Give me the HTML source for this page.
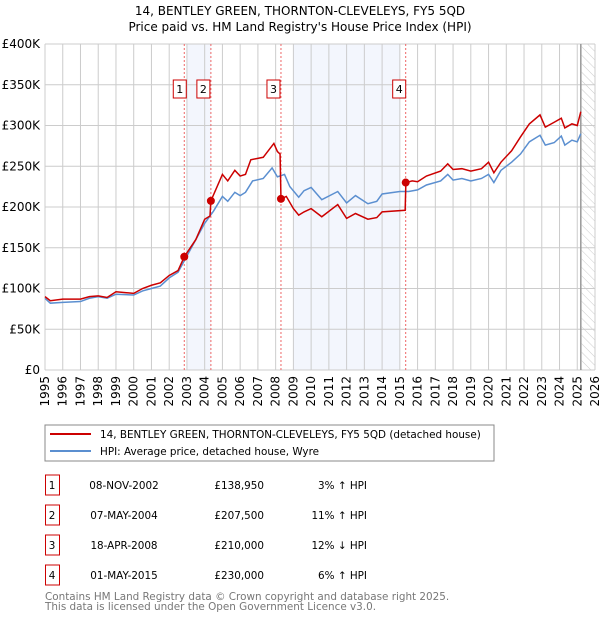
<!DOCTYPE html>
<html><head><meta charset="utf-8"><style>
body{margin:0;background:#fff;}
svg{font-family:"DejaVu Sans","Liberation Sans",sans-serif;}
</style></head><body>
<svg id="c" width="600" height="620">
<defs><pattern id="h" width="6" height="6" patternUnits="userSpaceOnUse" patternTransform="rotate(-45)"><line x1="0" y1="0" x2="0" y2="6" stroke="#ccc" stroke-width="1"/></pattern></defs>
<text x="300" y="15" text-anchor="middle" font-size="12">14, BENTLEY GREEN, THORNTON-CLEVELEYS, FY5 5QD</text>
<text x="300" y="31" text-anchor="middle" font-size="12">Price paid vs. HM Land Registry's House Price Index (HPI)</text>
<g id="grid"></g><g id="marks"></g><g id="axes"></g>
<rect x="45" y="425" width="449" height="36" fill="none" stroke="#888"/>
<line x1="50" y1="434" x2="91" y2="434" stroke="#cc0000" stroke-width="2"/>
<text x="100" y="438" font-size="10.4">14, BENTLEY GREEN, THORNTON-CLEVELEYS, FY5 5QD (detached house)</text>
<line x1="50" y1="451" x2="91" y2="451" stroke="#5b8fd0" stroke-width="2"/>
<text x="100" y="455" font-size="10.4">HPI: Average price, detached house, Wyre</text>
<g id="table" font-size="10.4"></g>
<text x="45" y="600" font-size="10.4" fill="#777">Contains HM Land Registry data © Crown copyright and database right 2025.</text>
<text x="45" y="610" font-size="10.4" fill="#777">This data is licensed under the Open Government Licence v3.0.</text>
</svg>
<script>
const hpiT=[1995,1995.3,1996,1997,1997.5,1998,1998.5,1999,2000,2000.5,2001,2001.5,2002,2002.5,2003,2003.5,2004,2004.5,2005,2005.3,2005.7,2006,2006.3,2006.7,2007.3,2007.8,2008.1,2008.5,2008.8,2009.3,2009.6,2010,2010.6,2011.5,2012,2012.5,2013.2,2013.7,2014,2015,2015.5,2016,2016.5,2017.3,2017.7,2018,2018.5,2019,2019.6,2020,2020.3,2020.7,2021.3,2021.8,2022.3,2022.9,2023.2,2023.7,2024.1,2024.3,2024.7,2025,2025.2];
const hpiV=[88,82,83,84,88,90,88,93,92,97,100,103,113,120,140,160,180,195,213,207,218,214,218,232,235,248,237,240,225,212,220,224,209,219,205,214,204,207,216,219,219,221,227,232,240,233,235,232,235,240,230,245,255,265,280,288,276,279,287,276,282,280,290];
const redT=[1995,1995.3,1996,1997,1997.5,1998,1998.5,1999,2000,2000.5,2001,2001.5,2002,2002.5,2002.85,2003.5,2004,2004.3,2004.35,2005,2005.3,2005.7,2006,2006.3,2006.6,2007.3,2007.9,2008.1,2008.25,2008.3,2008.6,2009,2009.3,2009.6,2010,2010.6,2011.5,2012,2012.5,2013.2,2013.7,2014,2015.3,2015.34,2015.7,2016,2016.5,2017.3,2017.7,2018,2018.5,2019,2019.6,2020,2020.3,2020.7,2021.3,2021.8,2022.3,2022.9,2023.2,2023.7,2024.1,2024.3,2024.7,2025,2025.2];
const redV=[90,85,87,87,90,91,89,96,94,100,104,107,116,122,138.95,160,185,189,207.5,240,232,245,238,240,258,261,278,268,265,210,213,198,190,194,198,188,203,186,192,185,187,194,196,230,232,231,238,244,253,246,247,244,247,255,242,255,269,286,302,313,298,304,309,297,302,300,317];
const saleT=[2002.85,2004.35,2008.3,2015.33];
const saleV=[138.95,207.5,210,230];
const saleLabel=["1","2","3","4"];
const dates=["08-NOV-2002","07-MAY-2004","18-APR-2008","01-MAY-2015"];
const prices=["£138,950","£207,500","£210,000","£230,000"];
const diffs=["3% ↑ HPI","11% ↑ HPI","12% ↓ HPI","6% ↑ HPI"];
const yTicks=[0,50,100,150,200,250,300,350,400];
const yLabels=["£0","£50K","£100K","£150K","£200K","£250K","£300K","£350K","£400K"];
const years=[];for(let y=1995;y<=2026;y++)years.push(y);
const X=t=>45+(t-1995)*550/31, Y=v=>370-v*326/400;
const NS="http://www.w3.org/2000/svg";
function mk(p,tag,a){const e=document.createElementNS(NS,tag);for(const k in a)e.setAttribute(k,a[k]);p.appendChild(e);return e;}
const g=document.getElementById('grid'),m=document.getElementById('marks'),ax=document.getElementById('axes'),tb=document.getElementById('table');
[[2003,saleT[1]],[2009,2015]].forEach((s,i)=>{const r=mk(g,'rect',{x:X(s[0]),y:Y(400),width:X(s[1])-X(s[0]),height:Y(0)-Y(400),fill:'#f3f6fd'});

});
const hr=mk(g,'rect',{x:X(2025.25),y:Y(400),width:X(2026)-X(2025.25),height:Y(0)-Y(400),fill:'url(#h)'});


years.forEach(y=>{const l=mk(g,'line',{x1:X(y),x2:X(y),y1:Y(400),y2:Y(0),stroke:'#ccc'});


const t=mk(ax,'text',{x:0,y:0,'font-size':12,'text-anchor':'end',transform:`translate(${X(y)+4},${376}) rotate(-90)`});t.textContent=y;

});
yTicks.forEach((v,i)=>{const l=mk(g,'line',{x1:45,x2:595,y1:Y(v),y2:Y(v),stroke:'#ccc'});


const t=mk(ax,'text',{x:40,y:Y(v)+4,'font-size':12,'text-anchor':'end'});t.textContent=yLabels[i];

});
const nl=mk(g,'line',{x1:X(2025.2),x2:X(2025.2),y1:Y(400),y2:Y(0),stroke:'#999','stroke-width':1.5});


saleT.forEach((t,i)=>{const l=mk(m,'line',{x1:X(t),x2:X(t),y1:Y(400),y2:Y(0),stroke:'#e66','stroke-dasharray':'2,2'});

});
const hp=mk(m,'polyline',{points:hpiT.map((t,i)=>X(t)+','+Y(hpiV[i])).join(' '),fill:'none',stroke:'#5b8fd0','stroke-width':1.5});


const rp=mk(m,'polyline',{points:redT.map((t,i)=>X(t)+','+Y(redV[i])).join(' '),fill:'none',stroke:'#cc0000','stroke-width':1.5});


saleT.forEach((t,i)=>{const c=mk(m,'circle',{cx:X(t),cy:Y(saleV[i]),r:4,fill:'#cc0000'});


const bx=X(t)-(i==3?6:(i==0?4:7))-7;
const r=mk(m,'rect',{x:bx,y:80,width:13,height:18,fill:'#fff',stroke:'#cc0000'});


const tx=mk(m,'text',{x:bx+6.5,y:93,'font-size':11,'text-anchor':'middle'});tx.textContent=saleLabel[i];


const ry=475+i*30;
const b=mk(tb,'rect',{x:45.5,y:ry,width:14,height:20,fill:'#fff',stroke:'#cc0000'});


const cells=[[52,saleLabel[i],'middle'],[124,dates[i],'middle'],[264,prices[i],'end'],[367,diffs[i],'end']];
cells.forEach((c,j)=>{const e=mk(tb,'text',{x:c[0],y:ry+14,'text-anchor':c[2]});e.textContent=c[1];

});});
</script>
</body></html>
